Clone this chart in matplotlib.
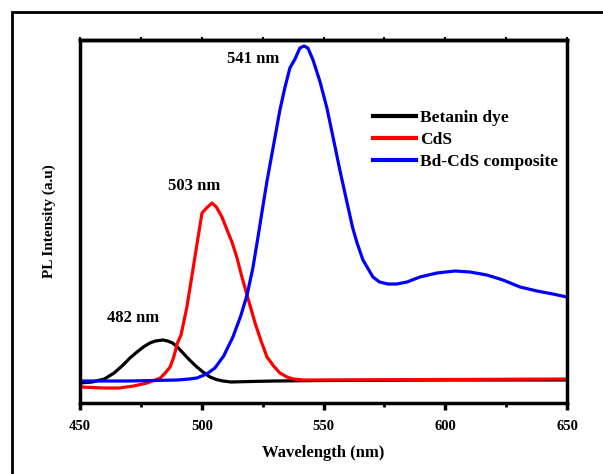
import matplotlib
matplotlib.use("Agg")
import matplotlib.pyplot as plt
from matplotlib.patches import Rectangle
from matplotlib.ticker import MultipleLocator

plt.rcParams["font.family"] = ["Liberation Serif", "DejaVu Serif"]
plt.rcParams["font.weight"] = "bold"

# Betanin dye
wl_dye = [450, 455, 460, 464, 467.7, 470.5, 473.4, 476, 478.7, 481, 484, 486, 488,
          490, 492.3, 495, 498, 500.5, 503.4, 506, 508.7, 512, 520, 530, 550, 600, 650]
pl_dye = [20, 21, 24, 30, 38, 45, 51, 56, 60, 62, 63, 62, 60,
          56, 50, 43, 36, 31, 26, 23.5, 22, 21, 21.5, 22, 22.5, 23, 23]

# CdS
wl_cds = [450, 455, 460, 466, 472, 477.5, 481, 483, 485, 487, 488.5, 490, 491.5,
          493.9, 497.2, 500.1, 502, 504.2, 506, 508.3, 510.4, 512.4, 514.5, 516.5,
          518.6, 521.9, 524.5, 526.8, 529.5, 532.1, 535, 537.5, 542, 548.6, 600, 650]
pl_cds = [16, 15.5, 15, 15, 17, 20, 23, 25, 30, 36, 46, 60, 68,
          96, 146, 190, 195, 200, 196, 186, 173, 161, 145, 126,
          108, 80, 61, 46, 37, 30, 26, 24, 23, 23, 23.5, 24]

# Bd-CdS composite
wl_comp = [450, 460, 470, 480, 490, 495, 498, 502, 505.4, 509, 512.8, 516, 518.6,
           521, 523.1, 525.2, 526.8, 528.9, 532.1, 534.2, 536.2, 538.3, 540.3, 542,
           543.6, 545.7, 548.6, 551.4, 553.9, 556.8, 559.7, 562, 563.8, 566.2, 570.3,
           573, 576.5, 580, 584.3, 589.6, 596.6, 604, 610.2, 617.1, 623.7, 630.7,
           637.7, 644.2, 650]
pl_comp = [22, 22, 22, 22.5, 23, 24, 25, 29, 35, 47, 66, 87, 108,
           135, 166, 198, 222, 250, 293, 316, 335, 344, 355, 357,
           355, 343, 321, 295, 266, 232, 200, 175, 160, 143, 126,
           121, 119, 119, 121, 126, 130, 132, 131, 128, 123, 116,
           112, 109, 106]

peaks = [(471.8, 85, "482 nm"), (496.8, 217, "503 nm"), (521, 344, "541 nm")]

fig = plt.figure(figsize=(6.03, 4.74), dpi=100)
ax = fig.add_axes([80 / 603, 1 - 403 / 474, 487 / 603, 363 / 474])

# outer frame around the figure (runs off right/bottom edge)
fig.patches.append(Rectangle((12 / 603, -0.2), 1.2, 1 - 12 / 474 + 0.2,
                             transform=fig.transFigure, fill=False,
                             edgecolor="black", linewidth=2))

ax.plot(wl_dye, pl_dye, color="black", lw=2.3, label="Betanin dye")
ax.plot(wl_cds, pl_cds, color="#ff0000", lw=2.3, label="CdS")
ax.plot(wl_comp, pl_comp, color="#0000ff", lw=2.3, label="Bd-CdS composite")

for x, y, s in peaks:
    ax.text(x, y, s, ha="center", va="center", fontsize=12, fontweight="bold")

ax.set_xlim(450, 650)
ax.set_ylim(0, 363)
ax.xaxis.set_major_locator(MultipleLocator(50))
ax.xaxis.set_minor_locator(MultipleLocator(25))
ax.set_yticks([])
ax.tick_params(axis="x", which="major", direction="out", length=5, width=2.5,
               labelsize=10.5, pad=7)
ax.tick_params(axis="x", which="minor", direction="out", length=3, width=2)
for side in ax.spines.values():
    side.set_linewidth(2.5)

# small tick marks along the top edge
top = ax.secondary_xaxis("top")
top.xaxis.set_major_locator(MultipleLocator(25))
top.tick_params(direction="out", length=2, width=1.5, labeltop=False)
top.spines["top"].set_linewidth(2.5)

ax.set_xlabel("Wavelength (nm)", fontsize=12, fontweight="bold", labelpad=9)
ax.set_ylabel("PL Intensity (a.u)", fontsize=11, fontweight="bold", labelpad=17)

leg = ax.legend(loc="upper left", bbox_to_anchor=(0.577, 0.842), frameon=False,
                fontsize=12.5, handlelength=2.45, handletextpad=0.25, labelspacing=0.35,
                borderpad=0.2)
for line in leg.get_lines():
    line.set_linewidth(3)

fig.savefig("out.png", dpi=100)
